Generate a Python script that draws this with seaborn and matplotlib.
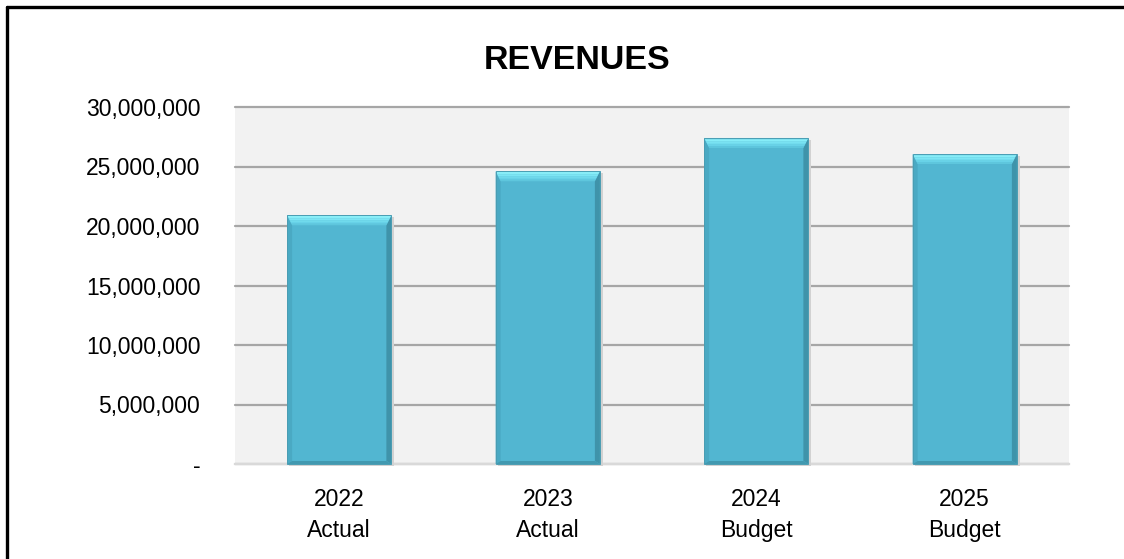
import matplotlib
matplotlib.use("Agg")
import matplotlib.pyplot as plt
import matplotlib.transforms as mtransforms
from matplotlib.patches import Polygon
from matplotlib.lines import Line2D
from matplotlib.ticker import FuncFormatter
import seaborn as sns

# Revenue data
years = ["2022", "2023", "2024", "2025"]
kinds = ["Actual", "Actual", "Budget", "Budget"]
revenues = [20_900_000, 24_600_000, 27_400_000, 26_050_000]
y_ticks = [0, 5_000_000, 10_000_000, 15_000_000, 20_000_000, 25_000_000, 30_000_000]
title = "REVENUES"

categories = [f"{y}\n{k}" for y, k in zip(years, kinds)]

sns.set_theme(style="white")
plt.rcParams["font.family"] = ["Liberation Sans", "DejaVu Sans"]
plt.rcParams["text.color"] = "black"

W, H, DPI = 1124, 559, 100
fig = plt.figure(figsize=(W / DPI, H / DPI), dpi=DPI)
ax = fig.add_axes([235 / W, 1 - 464 / H, (1069 - 235) / W, (464 - 107) / H])

BAR = "#52B6D1"
sns.barplot(x=categories, y=revenues, color=BAR, saturation=1, width=0.5,
            ax=ax, zorder=3, linewidth=0)

ax.set_facecolor("#F2F2F2")
ax.set_ylim(0, 30_000_000)
ax.set_yticks(y_ticks)
ax.yaxis.set_major_formatter(FuncFormatter(lambda v, _: "-" if v == 0 else f"{v:,.0f}"))
ax.grid(axis="y", color="#A6A6A6", linewidth=1.6, zorder=1)
ax.grid(axis="x", visible=False)
for gl in ax.get_ygridlines():
    gl.set_clip_on(False)
for side in ("top", "left", "right"):
    ax.spines[side].set_visible(False)
ax.spines["bottom"].set_color("#D9D9D9")
ax.spines["bottom"].set_linewidth(1.6)
ax.tick_params(axis="both", length=0, labelsize=16.5, colors="#000000")
ax.tick_params(axis="y", pad=25)
ax.tick_params(axis="x", pad=17)
for lbl in ax.get_xticklabels():
    lbl.set_linespacing(1.45)
ax.set_xlabel("")
ax.set_ylabel("")

fig.text(577 / W, 1 - 61 / H, title, ha="center", va="center", color="black",
         fontsize=24.5, fontweight="bold")

# Bevelled look for each bar, built from the bar geometry in pixel space
fig.canvas.draw()
ident = mtransforms.IdentityTransform()
for p in ax.patches:
    bb = p.get_window_extent()
    x0, y0, x1, y1 = bb.x0, bb.y0, bb.x1, bb.y1
    t, s = 10, 5
    # soft drop shadow
    fig.add_artist(Polygon([(x0 + 2, y0 - 2), (x1 + 3, y0 - 2), (x1 + 3, y1 - 2), (x1, y1 - 2), (x1, y0), (x0 + 2, y0)],
                           closed=True, transform=ident, facecolor="#D2D2D2", edgecolor="none", zorder=2))
    # left edge
    fig.add_artist(Polygon([(x0, y0), (x0, y1), (x0 + s, y1 - t), (x0 + s, y0 + 3)],
                           closed=True, transform=ident, facecolor="#4AA9C3", edgecolor="none", zorder=4))
    # right edge
    fig.add_artist(Polygon([(x1, y0), (x1, y1), (x1 - s, y1 - t), (x1 - s, y0 + 3)],
                           closed=True, transform=ident, facecolor="#3F93AA", edgecolor="none", zorder=4))
    # bottom edge
    fig.add_artist(Polygon([(x0, y0), (x1, y0), (x1 - s, y0 + 3), (x0 + s, y0 + 3)],
                           closed=True, transform=ident, facecolor="#4299B0", edgecolor="none", zorder=4))
    # top bevel with a light gradient
    steps = 6
    tops = ["#5EC6DD", "#68D2E8", "#72DCEE", "#7CE5F4", "#86EDF8", "#90F2FA"]
    for i in range(steps):
        ya = y1 - t + t * i / steps
        yb = y1 - t + t * (i + 1) / steps
        da = t - t * i / steps
        db = t - t * (i + 1) / steps
        fig.add_artist(Polygon([(x0 + s * da / t, ya), (x1 - s * da / t, ya),
                                (x1 - s * db / t, yb), (x0 + s * db / t, yb)],
                               closed=True, transform=ident, facecolor=tops[i], edgecolor="none", zorder=4))
    # thin outline
    fig.add_artist(Polygon([(x0, y0), (x1, y0), (x1, y1), (x0, y1)], closed=True, transform=ident,
                           facecolor="none", edgecolor="#4A9DB3", linewidth=0.7, zorder=5))

# Frame lines along the top and left edges
fig.add_artist(Line2D([7 / W, 7 / W], [0, 1 - 7 / H], transform=fig.transFigure, color="black", linewidth=2.4))
fig.add_artist(Line2D([7 / W, 1], [1 - 7 / H, 1 - 7 / H], transform=fig.transFigure, color="black", linewidth=2.4))

fig.savefig("out.png", dpi=DPI)
